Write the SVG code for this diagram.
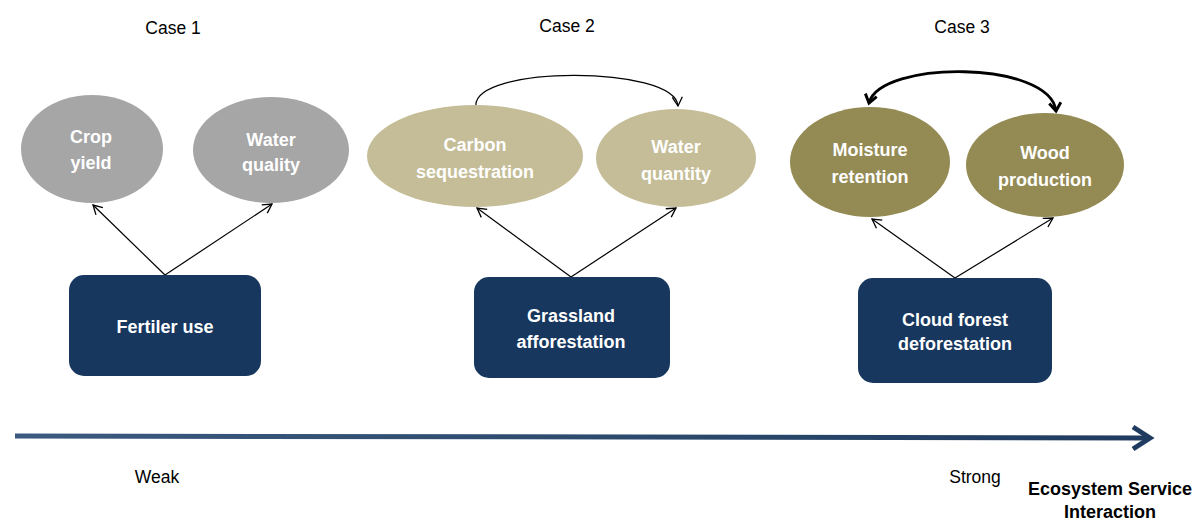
<svg xmlns="http://www.w3.org/2000/svg" width="1194" height="520" viewBox="0 0 1194 520">
<defs>
<style>
.lbl{font-family:"Liberation Sans",Arial,sans-serif;font-size:17.5px;fill:#000;text-anchor:middle}
.nt{font-family:"Liberation Sans",Arial,sans-serif;font-size:18px;font-weight:bold;fill:#fff;text-anchor:middle}
.box{fill:#17375e}
.conn{stroke:#000;stroke-width:1.2;fill:none}
</style>
<marker id="open" viewBox="0 0 12 12" refX="10" refY="6" markerWidth="12" markerHeight="12" markerUnits="userSpaceOnUse" orient="auto">
<path d="M1,1 L10,6 L1,11" fill="none" stroke="#000" stroke-width="1.3"/>
</marker>
<marker id="thick" viewBox="0 0 12 12" refX="9" refY="6" markerWidth="14" markerHeight="14" markerUnits="userSpaceOnUse" orient="auto">
<path d="M2,1 L9,6 L2,11" fill="none" stroke="#000" stroke-width="2.5"/>
</marker>
<marker id="thickS" viewBox="0 0 12 12" refX="3" refY="6" markerWidth="14" markerHeight="14" markerUnits="userSpaceOnUse" orient="auto">
<path d="M10,1 L3,6 L10,11" fill="none" stroke="#000" stroke-width="2.5"/>
</marker>
<linearGradient id="axisg" x1="0" y1="0" x2="1" y2="0">
<stop offset="0" stop-color="#3a5a7e"/>
<stop offset="1" stop-color="#1f3c60"/>
</linearGradient>
</defs>
<rect width="1194" height="520" fill="#fff"/>

<g id="case-labels">
<text class="lbl" x="173" y="34">Case 1</text>
<text class="lbl" x="567" y="32">Case 2</text>
<text class="lbl" x="962" y="33">Case 3</text>
</g>

<g id="connectors">
<line class="conn" x1="165" y1="275" x2="93" y2="205" marker-end="url(#open)"/>
<line class="conn" x1="165" y1="275" x2="272" y2="204" marker-end="url(#open)"/>
<line class="conn" x1="571" y1="277" x2="477" y2="208" marker-end="url(#open)"/>
<line class="conn" x1="571" y1="277" x2="676" y2="208" marker-end="url(#open)"/>
<line class="conn" x1="955" y1="278" x2="872" y2="219" marker-end="url(#open)"/>
<line class="conn" x1="955" y1="278" x2="1053" y2="218" marker-end="url(#open)"/>
<path class="conn" d="M476,107 C470,65 675,65 678,106" marker-end="url(#open)"/>
<path d="M869,103 C880,60 1050,60 1056,111" fill="none" stroke="#000" stroke-width="2.8" marker-start="url(#thickS)" marker-end="url(#thick)"/>
</g>

<g id="axis">
<line x1="15" y1="436" x2="1147" y2="438" stroke="url(#axisg)" stroke-width="5"/>
<path d="M1133,427 L1150,438 L1133,449" fill="none" stroke="#1f3c60" stroke-width="5"/>
<text class="lbl" x="157" y="483">Weak</text>
<text class="lbl" x="975" y="483">Strong</text>
<text class="lbl" x="1110" y="495" style="font-weight:bold;font-size:18px">Ecosystem Service</text>
<text class="lbl" x="1110" y="518" style="font-weight:bold;font-size:18px">Interaction</text>
</g>

<g id="crop-yield">
<ellipse cx="92" cy="149" rx="71" ry="54" fill="#a6a6a6"/>
<text class="nt" x="91" y="143">Crop</text>
<text class="nt" x="91" y="169">yield</text>
</g>
<g id="water-quality">
<ellipse cx="271" cy="150" rx="78" ry="53" fill="#a6a6a6"/>
<text class="nt" x="271" y="146">Water</text>
<text class="nt" x="271" y="171">quality</text>
</g>
<g id="fertiler-use">
<rect class="box" x="69" y="275" width="192" height="101" rx="15"/>
<text class="nt" x="165" y="333">Fertiler use</text>
</g>

<g id="carbon-sequestration">
<ellipse cx="475" cy="156" rx="108" ry="51" fill="#c4bd97"/>
<text class="nt" x="475" y="151">Carbon</text>
<text class="nt" x="475" y="178">sequestration</text>
</g>
<g id="water-quantity">
<ellipse cx="676" cy="158" rx="80" ry="49" fill="#c4bd97"/>
<text class="nt" x="676" y="153">Water</text>
<text class="nt" x="676" y="180">quantity</text>
</g>
<g id="grassland-afforestation">
<rect class="box" x="474" y="277" width="196" height="101" rx="15"/>
<text class="nt" x="571" y="322">Grassland</text>
<text class="nt" x="571" y="348">afforestation</text>
</g>

<g id="moisture-retention">
<ellipse cx="870" cy="162" rx="80" ry="55" fill="#948a54"/>
<text class="nt" x="870" y="156">Moisture</text>
<text class="nt" x="870" y="183">retention</text>
</g>
<g id="wood-production">
<ellipse cx="1045" cy="165" rx="79" ry="52" fill="#948a54"/>
<text class="nt" x="1045" y="159">Wood</text>
<text class="nt" x="1045" y="186">production</text>
</g>
<g id="cloud-forest-deforestation">
<rect class="box" x="858" y="278" width="194" height="105" rx="15"/>
<text class="nt" x="955" y="326">Cloud forest</text>
<text class="nt" x="955" y="350">deforestation</text>
</g>
</svg>
